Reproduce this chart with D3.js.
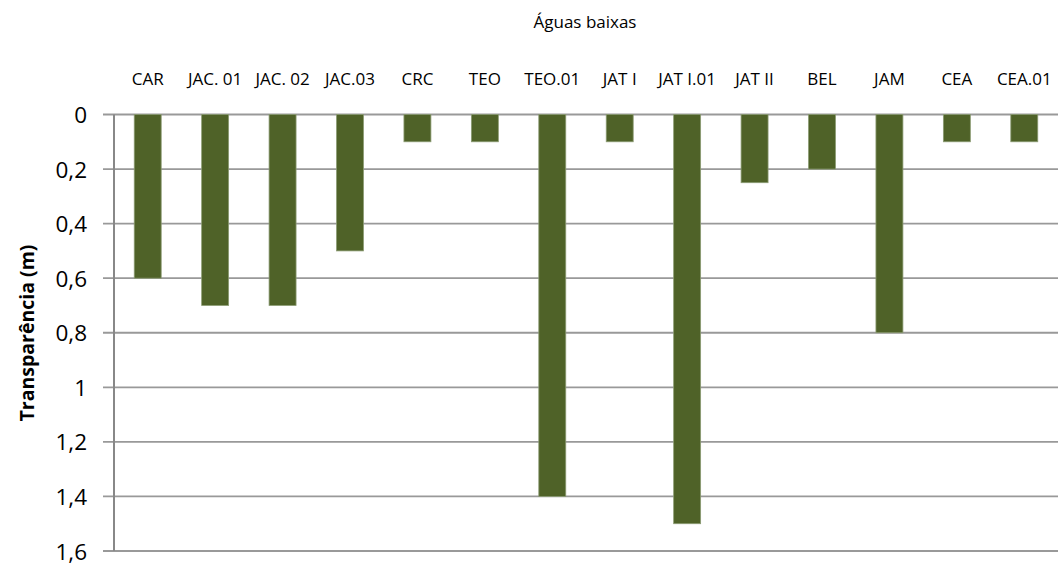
<!DOCTYPE html>
<html><head><meta charset="utf-8">
<script src="https://cdn.jsdelivr.net/npm/d3@7"></script>
<style>body{margin:0;background:#fff;} text{font-family:"Open Sans",sans-serif;fill:#000;}</style>
</head><body>
<svg id="c" width="1062" height="567"></svg>
<script>
const categories = ["CAR","JAC. 01","JAC. 02","JAC.03","CRC","TEO","TEO.01","JAT I","JAT I.01","JAT II","BEL","JAM","CEA","CEA.01"];
const values = [0.6,0.7,0.7,0.5,0.1,0.1,1.4,0.1,1.5,0.25,0.2,0.8,0.1,0.1];
const yTicks = [0,0.2,0.4,0.6,0.8,1,1.2,1.4,1.6];
const title = "Águas baixas";
const yTitle = "Transparência (m)";

const svg = d3.select("#c");
const L = 114, R = 1058, T = 114.5, B = 551;
const x = d3.scaleBand().domain(categories).range([L, R]).paddingInner(0.6).paddingOuter(0.3);
const y = d3.scaleLinear().domain([0, 1.6]).range([T, B]);
const fmt = d => String(d).replace(".", ",");

// gridlines + tick marks
svg.append("g").selectAll("line").data(yTicks).join("line")
  .attr("x1", L - 11).attr("x2", R)
  .attr("y1", d => y(d)).attr("y2", d => y(d))
  .attr("stroke", "#999").attr("stroke-width", 1.8);

// bars
svg.append("g").selectAll("rect").data(values).join("rect")
  .attr("x", (d, i) => x(categories[i]))
  .attr("y", y(0))
  .attr("width", x.bandwidth())
  .attr("height", d => y(d) - y(0))
  .attr("fill", "#4f6228")
  .attr("stroke", "#8c9c74").attr("stroke-width", 0.8);

// axis line
svg.append("line").attr("x1", L).attr("x2", L).attr("y1", T).attr("y2", B)
  .attr("stroke", "#888").attr("stroke-width", 2);

// y tick labels
svg.append("g").selectAll("text").data(yTicks).join("text")
  .attr("x", 87).attr("y", d => y(d) + 8.5)
  .attr("text-anchor", "end").attr("font-size", 22.5).text(fmt);

// category labels
svg.append("g").selectAll("text").data(categories).join("text")
  .attr("x", d => x(d) + x.bandwidth() / 2).attr("y", 85)
  .attr("text-anchor", "middle").attr("font-size", 17).text(d => d);

// title
svg.append("text").attr("x", 585).attr("y", 28).attr("text-anchor", "middle")
  .attr("font-size", 17).text(title);

// y title
svg.append("text").attr("transform", "translate(34,333) rotate(-90)")
  .attr("text-anchor", "middle").attr("font-size", 19.5).attr("font-weight", "bold").text(yTitle);
</script>
</body></html>
